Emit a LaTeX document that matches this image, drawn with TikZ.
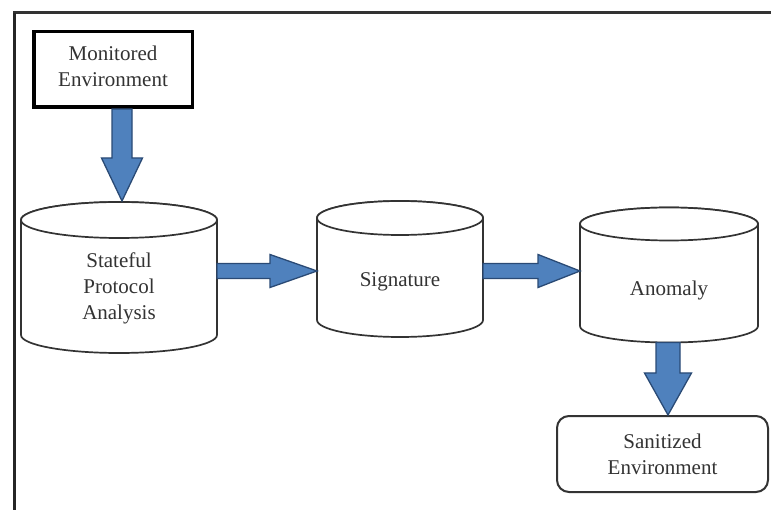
\documentclass[tikz,border=0pt]{standalone}
\usepackage{fontspec}
\setmainfont{Liberation Serif}
\usetikzlibrary{calc}
\definecolor{arrowblue}{HTML}{4F81BD}
\definecolor{arrowedge}{HTML}{2A4A75}
\definecolor{inkgray}{HTML}{333333}
\newcommand\mkcyl[6]{% name, L, R, T, B, ry
  \pgfmathsetmacro\cylrx{(#3-#2)/2}%
  \pgfmathsetmacro\cylcx{(#2+#3)/2}%
  \draw[cylline] (#2,#4) -- (#2,#5) arc[start angle=180,end angle=0,x radius=\cylrx,y radius=#6]
     -- (#3,#4) arc[start angle=0,end angle=-180,x radius=\cylrx,y radius=#6] -- cycle;
  \draw[cylline] (\cylcx,#4) ellipse[x radius=\cylrx,y radius=#6];
  \node[hit, minimum width={#3-#2}, minimum height={#5-#4+2*#6}] (#1) at (\cylcx,{(#4+#5)/2}) {};
}
\newcommand\varrow[5]{% start, tip, shaft half, head half, head length
  \draw[barrow] ($(#1)+(-#3,0)$) -- ($(#2)+(-#3,-#5)$) -- ($(#2)+(-#4,-#5)$) -- (#2)
    -- ($(#2)+(#4,-#5)$) -- ($(#2)+(#3,-#5)$) -- ($(#1)+(#3,0)$) -- cycle;
}
\newcommand\harrow[5]{% start, tip, shaft half, head half, head length
  \draw[barrow] ($(#1)+(0,-#3)$) -- ($(#2)+(-#5,-#3)$) -- ($(#2)+(-#5,-#4)$) -- (#2)
    -- ($(#2)+(-#5,#4)$) -- ($(#2)+(-#5,#3)$) -- ($(#1)+(0,#3)$) -- cycle;
}
\begin{document}
\begin{tikzpicture}[x=1pt,y=-1pt,
  lbl/.style={font=\fontsize{21}{26}\selectfont, align=center, text=inkgray, inner sep=0pt},
  cylline/.style={draw=inkgray, line width=1.7pt, fill=white},
  hit/.style={draw=none, inner sep=0pt, outer sep=0pt},
  barrow/.style={fill=arrowblue, draw=arrowedge, line width=1.3pt, line join=miter},
  monbox/.style={draw=black, line width=3.5pt, fill=white, inner sep=0pt,
    minimum width=158.5pt, minimum height=75.5pt},
  sanbox/.style={draw=inkgray, line width=2pt, fill=white, rounded corners=12pt, inner sep=0pt,
    minimum width=211pt, minimum height=76pt},
]
\useasboundingbox (0,0) rectangle (771,510);
\fill[white] (0,0) rectangle (771,510);
% frame
\draw[line width=3pt, draw=black!80] (13,13) -- (771,13);
\draw[line width=3pt, draw=black!85] (14,13) -- (14,510);

% nodes
\node[monbox] (mon) at (113,69.5) {};
\node[lbl] (monl) at (113,66) {Monitored\\Environment};

\mkcyl{c1}{21}{217}{220}{335}{18}
\node[lbl] (l1) at (119,288) {Stateful\\Protocol\\Analysis};

\mkcyl{c2}{317}{483}{218}{320}{17}
\node[lbl] (l2) at (400,282) {Signature};

\mkcyl{c3}{580}{758}{224}{326}{16.5}
\node[lbl] (l3) at (669,290) {Anomaly};

\node[sanbox] (san) at (662.5,454) {};
\node[lbl] (sanl) at (662.5,454) {Sanitized\\Environment};

% helper coordinates
\coordinate (x122) at (122,0);
\coordinate (x668) at (668,0);
\coordinate (y271) at (0,271);

\coordinate (a1s) at (mon.south -| x122);
\coordinate (a1t) at ($(c1.north -| x122)+(0,-1)$);
\coordinate (a2s) at (c1.east |- y271);
\coordinate (a2t) at (c2.west |- y271);
\coordinate (a3s) at (c2.east |- y271);
\coordinate (a3t) at (c3.west |- y271);
\coordinate (a4s) at (c3.south -| x668);
\coordinate (a4t) at (san.north -| x668);

\varrow{a1s}{a1t}{10}{20.5}{43}
\harrow{a2s}{a2t}{7.5}{16.5}{47}
\harrow{a3s}{a3t}{7.5}{16.5}{42}
\varrow{a4s}{a4t}{12}{23.5}{42}
\end{tikzpicture}
\end{document}
